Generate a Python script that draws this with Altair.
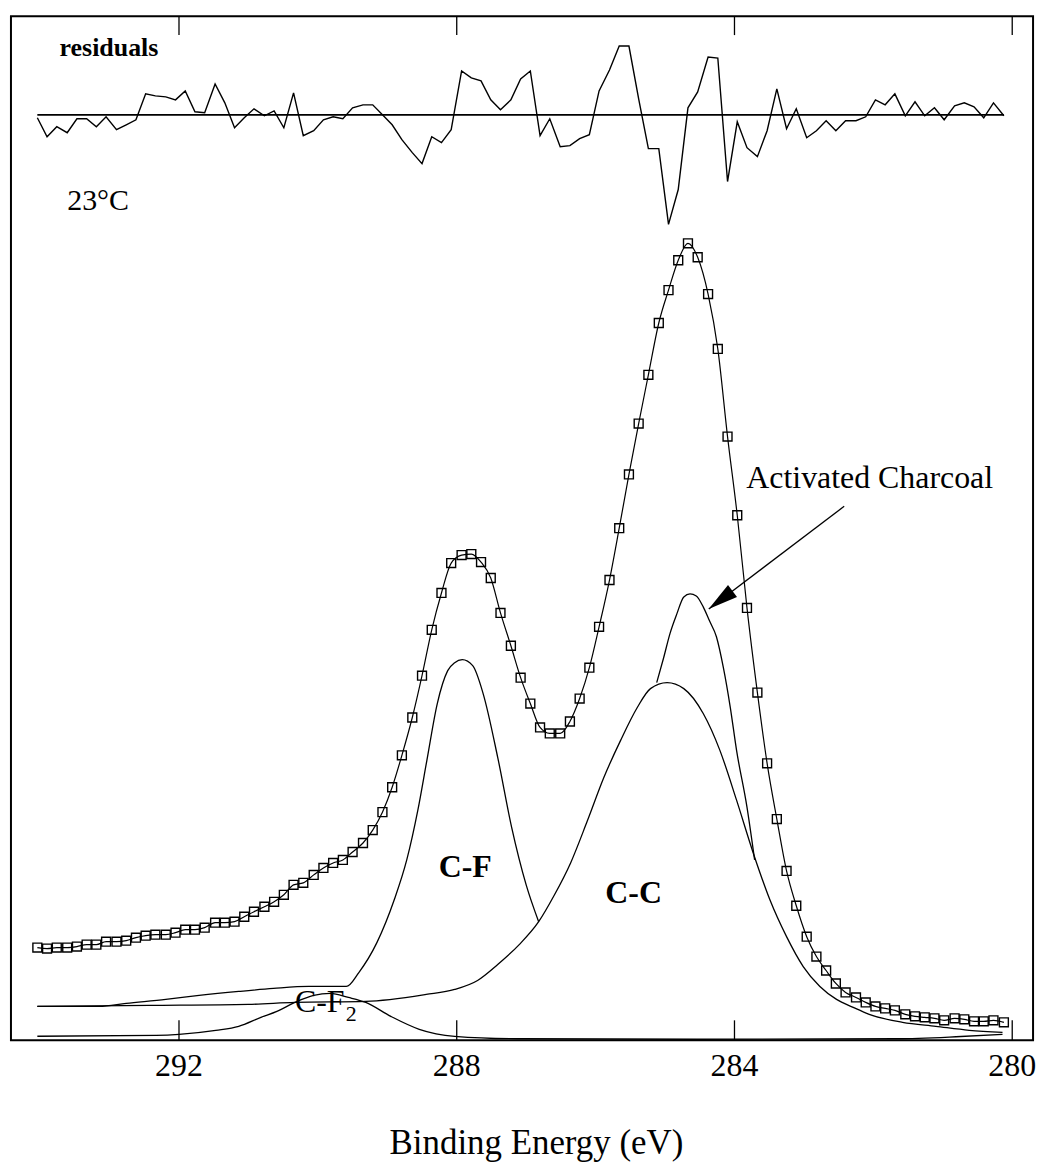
import altair as alt
import pandas as pd

# ---------------------------------------------------------------
# C 1s XPS spectrum of fluorinated activated charcoal at 23 °C
# ---------------------------------------------------------------

# Binding-energy grid of the scan (eV)
energy = [294.04, 293.90, 293.76, 293.61, 293.47, 293.33, 293.19, 293.05, 292.90, 292.76,
          292.62, 292.48, 292.34, 292.19, 292.05, 291.91, 291.77, 291.63, 291.48, 291.34,
          291.20, 291.06, 290.92, 290.77, 290.63, 290.49, 290.35, 290.21, 290.06, 289.92,
          289.78, 289.64, 289.50, 289.35, 289.21, 289.07, 288.93, 288.79, 288.64, 288.50,
          288.36, 288.22, 288.08, 287.93, 287.79, 287.65, 287.51, 287.37, 287.22, 287.08,
          286.94, 286.80, 286.66, 286.51, 286.37, 286.23, 286.09, 285.95, 285.80, 285.66,
          285.52, 285.38, 285.24, 285.09, 284.95, 284.81, 284.67, 284.53, 284.38, 284.24,
          284.10, 283.96, 283.82, 283.67, 283.53, 283.39, 283.25, 283.11, 282.96, 282.82,
          282.68, 282.54, 282.40, 282.25, 282.11, 281.97, 281.83, 281.69, 281.54, 281.40,
          281.26, 281.12, 280.98, 280.83, 280.69, 280.55, 280.41, 280.27, 280.12]

# Measured intensity (arb. units)
counts = [93, 92, 93, 93, 94, 96, 96, 99, 99, 100,
          103, 105, 106, 106, 108, 111, 111, 113, 118, 118,
          119, 124, 129, 134, 139, 146, 156, 158, 166, 173,
          178, 181, 189, 198, 211, 229, 254, 286, 324, 366,
          412, 449, 479, 487, 488, 480, 464, 429, 396, 364,
          338, 314, 308, 308, 320, 343, 374, 415, 462, 514,
          568, 619, 668, 720, 753, 783, 800, 786, 749, 694,
          606, 527, 434, 349, 278, 222, 170, 135, 104, 84,
          70, 57, 48, 43, 38, 34, 32, 30, 26, 24,
          23, 22, 20, 22, 21, 19, 19, 20, 18]

# Fit residuals (arb. units, same grid)
residuals = [-3, -22, -12, -18, -4, -4, -12, -2, -15, -10,
             -5, 21, 19, 18, 15, 24, 3, 2, 31, 12,
             -13, -3, 6, -1, 4, -13, 22, -21, -16, -5,
             -2, -4, 7, 10, 10, 0, -10, -25, -38, -49,
             -22, -28, -15, 44, 37, 34, 15, 5, 15, 36,
             44, -21, -4, -32, -31, -24, -20, 24, 45, 69,
             69, 16, -34, -34, -110, -75, 7, 23, 58, 57,
             -67, -7, -33, -42, -16, 26, -14, 6, -23, -16,
             -6, -16, -6, -6, -2, 15, 10, 21, -1, 13,
             -1, 7, -5, 9, 12, 8, -3, 12, -1]

# Fitted component curves
cf_energy = [294.04, 293.15, 292.76, 292.19, 291.71, 291.14, 290.64, 290.13, 289.59, 289.41,
             289.15, 288.90, 288.72, 288.56, 288.43, 288.28, 288.13, 288.03, 287.92, 287.77,
             287.62, 287.41, 287.21, 287.00, 286.82]
cf_int = [34, 34, 37, 41, 45, 49, 52, 54, 54, 68,
          98, 141, 181, 231, 281, 338, 371, 379, 382, 376,
          348, 284, 214, 156, 119]

cc_energy = [294.04, 292.43, 291.00, 290.33, 289.31, 288.44, 288.03, 287.70, 287.41, 287.10,
             286.82, 286.60, 286.36, 286.12, 285.88, 285.64, 285.40, 285.21, 284.97, 284.73,
             284.45, 284.21, 283.97, 283.73, 283.49, 283.25, 283.01, 282.77, 282.53, 282.29,
             282.06, 281.58, 281.10, 280.62, 280.14]
cc_int = [34, 35, 36, 38, 39, 46, 51, 60, 76, 96,
          119, 145, 178, 220, 264, 301, 334, 353, 359, 353,
          328, 291, 241, 188, 141, 104, 74, 54, 41, 33,
          26, 18, 14, 10, 8]

ac_energy = [285.12, 285.02, 284.93, 284.83, 284.73, 284.64, 284.55, 284.45, 284.36, 284.26,
             284.16, 284.06, 283.97, 283.82, 283.71]
ac_int = [359, 384, 408, 428, 445, 448, 446, 435, 421, 405,
          374, 334, 291, 234, 181]

cf2_energy = [294.04, 292.33, 292.00, 291.47, 291.14, 290.82, 290.59, 290.33, 290.06, 289.82,
              289.56, 289.31, 288.95, 288.54, 288.03, 287.12, 284.54, 281.67, 280.81, 280.14]
cf2_int = [4, 5, 6, 10, 14, 23, 29, 38, 45, 47,
           43, 38, 24, 11, 4, 1.5, 1, 1.5, 3.5, 6]

tick_values = [292, 288, 284, 280]

# Annotation anchors (eV, intensity)
arrow_tail = (282.42, 536)
arrow_tip = (284.37, 433)
arrow_head = (284.20, 442)

SERIF = "Liberation Serif"
W, H = 1026, 1028

x_scale = alt.Scale(domain=[279.70, 294.42], reverse=True, nice=False, zero=False)
y_scale = alt.Scale(domain=[0, 1028], nice=False, zero=False)
r_scale = alt.Scale(domain=[-929, 99], nice=False, zero=False)

# bottom axis only carries the title; tick marks and numbers are drawn as marks
x_axis = alt.Axis(values=tick_values, title="Binding Energy (eV)",
                  labels=False, ticks=False, domain=False, grid=False,
                  titleFont=SERIF, titleFontSize=35, titleFontWeight="normal",
                  titleColor="black", titleX=527, titleY=114, titleAlign="center",
                  titleBaseline="alphabetic")


def X(field):
    return alt.X(field, type="quantitative", scale=x_scale, axis=x_axis)


def Y(field, scale=y_scale):
    return alt.Y(field, type="quantitative", scale=scale, axis=None)


spec = pd.DataFrame({"E": energy, "I": counts, "R": residuals})


def curve(es, vals):
    df = pd.DataFrame({"E": es, "I": vals})
    return alt.Chart(df).mark_line(interpolate="monotone", color="black",
                                   strokeWidth=1.3).encode(x=X("E"), y=Y("I"))


components = [curve(cf_energy, cf_int), curve(cc_energy, cc_int),
              curve(ac_energy, ac_int), curve(cf2_energy, cf2_int)]

envelope = alt.Chart(spec).mark_line(interpolate="monotone", color="black",
                                     strokeWidth=1.2).encode(x=X("E"), y=Y("I"))

squares = alt.Chart(spec).mark_point(shape="square", filled=False, size=80,
                                     strokeWidth=1.4, color="black",
                                     opacity=1).encode(x=X("E"), y=Y("I"))

# residual trace and its zero line
res_zero = alt.Chart(pd.DataFrame({"E": [energy[0]], "E2": [energy[-1]], "R": [0]})).mark_rule(
    color="black", strokeWidth=1.8).encode(x=X("E"), x2="E2", y=Y("R", r_scale))
res_line = alt.Chart(spec).mark_line(color="black", strokeWidth=1.4).encode(
    x=X("E"), y=Y("R", r_scale))

# inward ticks on top and bottom edges, numbers under the frame
ticks_df = pd.DataFrame({"E": tick_values, "lab": [str(v) for v in tick_values]})
ticks_bottom = alt.Chart(ticks_df).mark_rule(color="black", strokeWidth=1.3).encode(
    x=X("E"), y=alt.value(H), y2=alt.value(H - 20))
ticks_top = alt.Chart(ticks_df).mark_rule(color="black", strokeWidth=1.3).encode(
    x=X("E"), y=alt.value(0), y2=alt.value(19))
tick_labels = alt.Chart(ticks_df).mark_text(
    align="center", baseline="alphabetic", font=SERIF, fontSize=32, color="black").encode(
    x=X("E"), y=alt.value(H + 36), text="lab:N")


def label(E, I, text, size, weight="normal"):
    df = pd.DataFrame({"E": [E], "I": [I], "t": [text]})
    return alt.Chart(df).mark_text(align="left", baseline="alphabetic", font=SERIF,
                                   fontSize=size, fontWeight=weight, color="black").encode(
        x=X("E"), y=Y("I"), text="t:N")


labels = [
    label(293.72, 988, "residuals", 26, "bold"),
    label(293.61, 833, "23°C", 30),
    label(283.83, 554, "Activated Charcoal", 32),
    label(288.26, 164, "C-F", 32, "bold"),
    label(285.86, 138, "C-C", 32, "bold"),
    label(290.33, 28, "C-F", 32),
    label(289.60, 19, "2", 22),
]

arrow_df = pd.DataFrame({"E": [arrow_tail[0]], "I": [arrow_tail[1]],
                         "E2": [arrow_tip[0]], "I2": [arrow_tip[1]]})
arrow_line = alt.Chart(arrow_df).mark_rule(color="black", strokeWidth=1.3).encode(
    x=X("E"), y=Y("I"), x2="E2", y2="I2")
arrow_tri = alt.Chart(pd.DataFrame({"E": [arrow_head[0]], "I": [arrow_head[1]]})).mark_point(
    shape="M0,-1L0.5,1L-0.5,1Z", filled=True, size=900, angle=233, color="black",
    opacity=1).encode(x=X("E"), y=Y("I"))

chart = alt.layer(
    *components, envelope, squares, res_zero, res_line, ticks_bottom, ticks_top,
    tick_labels, arrow_line, arrow_tri, *labels
).resolve_scale(y="independent").properties(
    width=W, height=H,
    padding={"left": 11, "top": 13, "right": 10, "bottom": 5},
    background="white",
).configure(font=SERIF).configure_view(stroke="black", strokeWidth=2)

chart.save("out.html", embed_options={"renderer": "svg", "actions": False})
